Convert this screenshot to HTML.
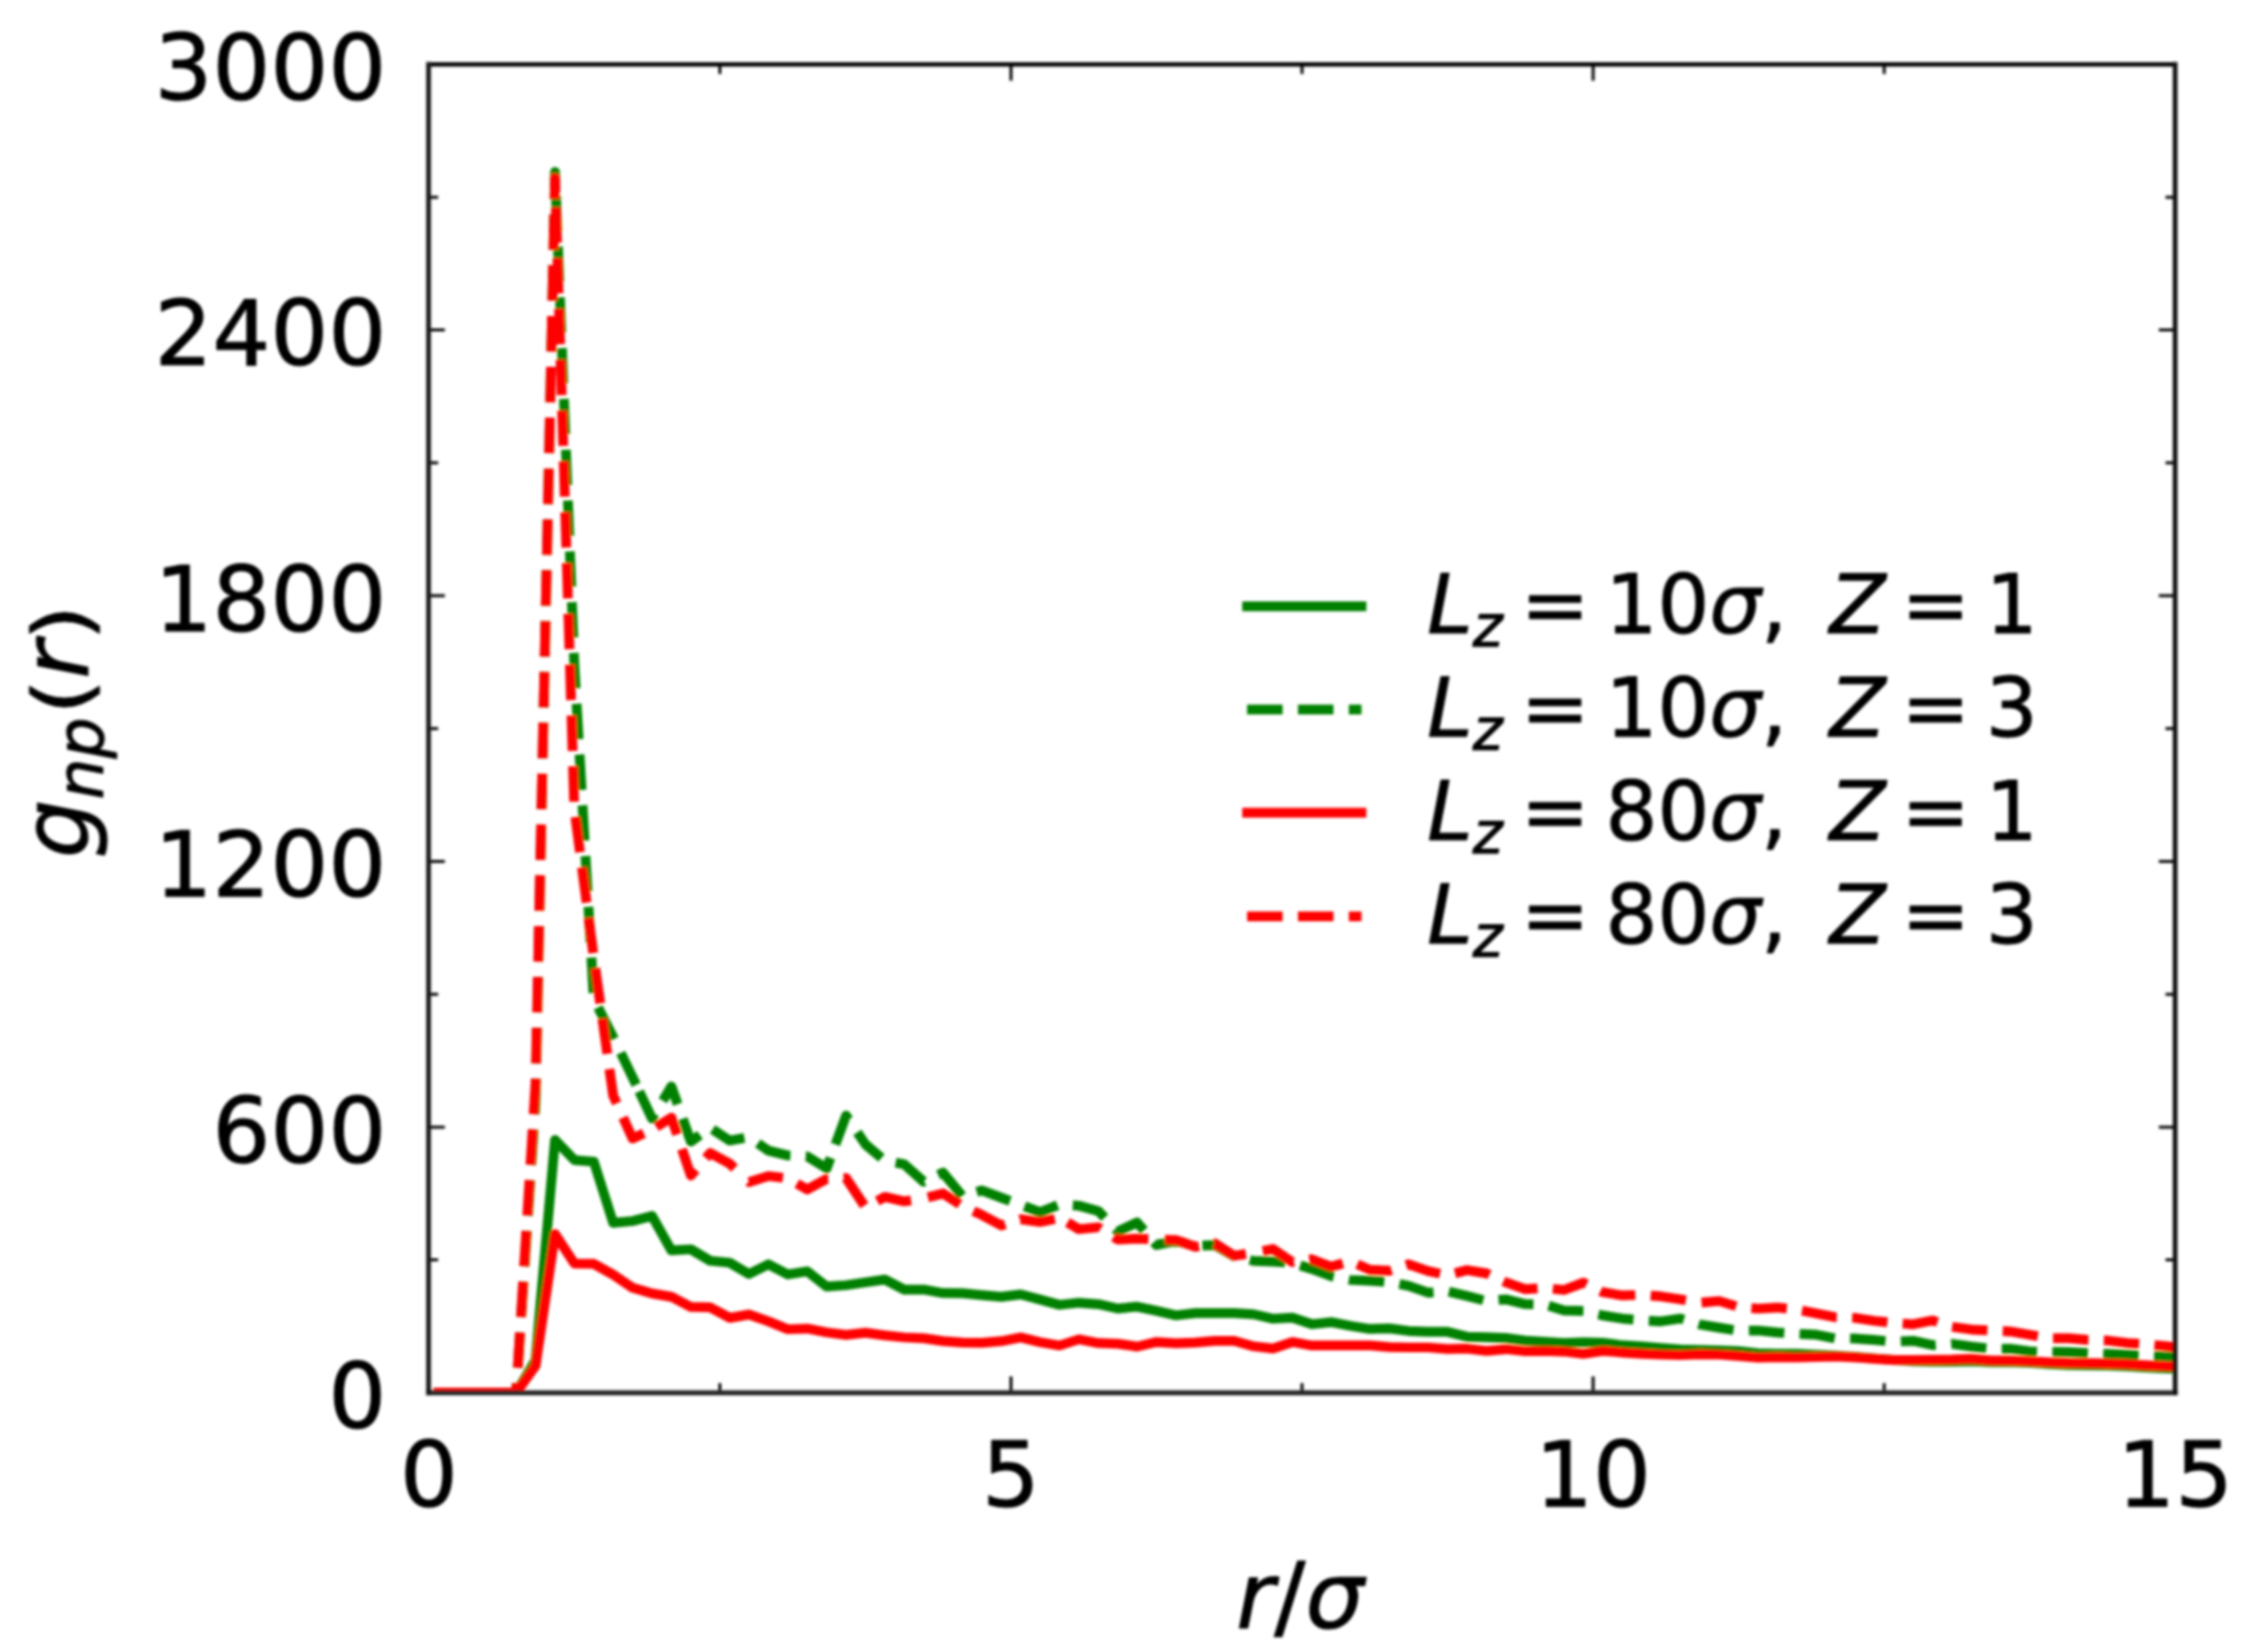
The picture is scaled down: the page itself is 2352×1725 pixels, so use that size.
<!DOCTYPE html>
<html lang="en"><head><meta charset="utf-8"><title>g_np(r) vs r/sigma</title>
<style>html,body{margin:0;padding:0;background:#fff}svg{display:block}text{font-family:"DejaVu Sans","Liberation Sans",sans-serif;fill:#000;stroke:#000;stroke-width:1.1px;stroke-linejoin:round}.i{font-style:oblique}</style></head><body>
<svg width="2352" height="1725" viewBox="0 0 2352 1725">
<defs><clipPath id="ax"><rect x="447.4" y="67.2" width="1823.3" height="1387.1"/></clipPath>
<filter id="bl" x="-2%" y="-2%" width="104%" height="104%"><feGaussianBlur stdDeviation="1.60"/></filter></defs>
<rect width="2352" height="1725" fill="#fff"/>
<g filter="url(#bl)">
<g clip-path="url(#ax)" fill="none" stroke-width="10.2" stroke-linejoin="round">
<polyline stroke="#008000" stroke-linecap="square" points="457.8,1454.2 478.1,1454.2 498.3,1454.2 518.6,1454.2 538.9,1454.2 559.1,1420.0 579.4,1190.3 599.6,1211.3 619.9,1213.0 640.1,1276.8 660.4,1275.0 680.7,1269.7 700.9,1305.7 721.2,1304.5 741.4,1316.5 761.7,1318.5 781.9,1330.3 802.2,1320.2 822.4,1330.8 842.7,1327.5 863.0,1343.4 883.2,1342.0 903.5,1339.0 923.7,1336.1 944.0,1346.6 964.2,1346.6 984.5,1350.2 1004.8,1350.4 1025.0,1352.3 1045.3,1354.1 1065.5,1351.6 1085.8,1357.0 1106.0,1362.5 1126.3,1360.3 1146.6,1361.8 1166.8,1366.4 1187.1,1364.4 1207.3,1368.8 1227.6,1373.5 1247.8,1371.1 1268.1,1371.1 1288.4,1371.1 1308.6,1372.4 1328.9,1377.0 1349.1,1375.9 1369.4,1382.7 1389.6,1380.6 1409.9,1384.5 1430.1,1387.7 1450.4,1387.1 1470.7,1389.8 1490.9,1390.7 1511.2,1390.7 1531.4,1395.8 1551.7,1396.4 1571.9,1397.1 1592.2,1399.9 1612.5,1401.1 1632.7,1402.4 1653.0,1401.5 1673.2,1402.0 1693.5,1404.7 1713.7,1405.9 1734.0,1407.7 1754.3,1409.1 1774.5,1409.7 1794.8,1410.2 1815.0,1410.9 1835.3,1413.0 1855.5,1413.6 1875.8,1413.5 1896.1,1414.5 1916.3,1415.5 1936.6,1416.8 1956.8,1418.5 1977.1,1420.0 1997.3,1421.3 2017.6,1421.8 2037.8,1421.8 2058.1,1421.3 2078.4,1422.3 2098.6,1422.3 2118.9,1423.0 2139.1,1424.3 2159.4,1425.3 2179.6,1425.6 2199.9,1426.0 2220.2,1426.6 2240.4,1427.8 2260.7,1428.8 2280.9,1429.3"/>
<polyline stroke="#008000" stroke-dasharray="37.05 16.05" stroke-dashoffset="52.21" points="457.8,1454.2 478.1,1454.2 498.3,1454.2 518.6,1454.2 538.9,1454.2 559.1,1150.0 579.4,179.5 599.6,695.0 619.9,1043.0 640.1,1083.0 660.4,1125.0 664.9,1134.5"/>
<polyline stroke="#008000" stroke-dasharray="37.05 16.05" stroke-dashoffset="47.43" points="664.9,1134.5 680.7,1168.0 700.9,1134.5 721.2,1192.0 741.4,1177.5 761.7,1191.0 781.9,1187.5 802.2,1201.5 822.4,1206.5 842.7,1207.5 863.0,1220.0 867.6,1207.3"/>
<polyline stroke="#008000" stroke-dasharray="37.05 16.05" stroke-dashoffset="39.92" points="867.6,1207.3 883.2,1164.9 903.5,1195.0 923.7,1212.0 944.0,1215.7 964.2,1233.9 984.5,1224.4 1004.8,1249.1 1025.0,1243.0 1045.3,1250.6 1065.5,1258.1 1085.8,1265.8 1106.0,1257.8 1126.3,1259.0 1146.6,1264.6 1166.8,1285.9 1187.1,1276.5 1207.3,1300.1 1227.6,1295.7 1247.8,1301.0 1268.1,1300.1 1288.4,1311.7 1308.6,1316.6 1328.9,1317.3 1349.1,1318.8 1369.4,1325.0 1389.6,1332.6 1409.9,1336.5 1430.1,1337.4 1450.4,1338.7 1470.7,1342.7 1490.9,1349.8 1511.2,1348.5 1531.4,1353.2 1551.7,1358.5 1571.9,1356.8 1592.2,1361.7 1612.5,1362.1 1632.7,1368.3 1653.0,1368.8 1673.2,1373.6 1693.5,1376.8 1713.7,1378.6 1734.0,1379.8 1754.3,1376.8 1774.5,1383.0 1794.8,1386.4 1815.0,1389.6 1835.3,1389.3 1855.5,1391.4 1875.8,1392.8 1896.1,1393.7 1916.3,1397.7 1936.6,1397.7 1956.8,1399.2 1977.1,1401.0 1997.3,1400.1 2017.6,1404.6 2037.8,1403.2 2058.1,1406.1 2078.4,1408.3 2098.6,1408.3 2118.9,1411.0 2139.1,1411.6 2159.4,1411.9 2179.6,1412.8 2199.9,1413.7 2220.2,1414.7 2240.4,1415.6 2260.7,1416.5 2280.9,1417.4"/>
<polyline stroke="#ff0000" stroke-linecap="square" points="457.8,1454.2 478.1,1454.2 498.3,1454.2 518.6,1454.2 538.9,1454.2 559.1,1426.0 579.4,1288.6 599.6,1319.3 619.9,1319.7 640.1,1331.0 660.4,1344.7 680.7,1350.6 700.9,1354.1 721.2,1364.7 741.4,1365.2 761.7,1376.1 781.9,1372.6 802.2,1379.7 822.4,1388.0 842.7,1387.3 863.0,1391.2 883.2,1393.9 903.5,1391.6 923.7,1394.4 944.0,1396.5 964.2,1397.4 984.5,1400.4 1004.8,1401.9 1025.0,1402.2 1045.3,1400.4 1065.5,1396.5 1085.8,1401.5 1106.0,1405.0 1126.3,1398.5 1146.6,1402.4 1166.8,1403.1 1187.1,1406.1 1207.3,1401.3 1227.6,1402.6 1247.8,1401.9 1268.1,1400.1 1288.4,1400.1 1308.6,1405.8 1328.9,1408.1 1349.1,1401.3 1369.4,1404.9 1389.6,1404.9 1409.9,1404.9 1430.1,1404.9 1450.4,1406.7 1470.7,1407.0 1490.9,1407.0 1511.2,1408.6 1531.4,1408.2 1551.7,1410.6 1571.9,1408.8 1592.2,1410.9 1612.5,1410.6 1632.7,1411.3 1653.0,1413.6 1673.2,1410.6 1693.5,1412.3 1713.7,1413.6 1734.0,1414.5 1754.3,1415.0 1774.5,1414.1 1794.8,1414.5 1815.0,1415.9 1835.3,1417.7 1855.5,1417.1 1875.8,1417.5 1896.1,1417.0 1916.3,1416.5 1936.6,1417.4 1956.8,1418.8 1977.1,1420.1 1997.3,1420.1 2017.6,1419.8 2037.8,1419.6 2058.1,1418.8 2078.4,1420.7 2098.6,1420.7 2118.9,1421.4 2139.1,1422.5 2159.4,1423.2 2179.6,1423.4 2199.9,1423.8 2220.2,1424.3 2240.4,1425.6 2260.7,1426.5 2280.9,1426.9"/>
<polyline stroke="#ff0000" stroke-dasharray="37.05 16.05" stroke-dashoffset="52.24" points="457.8,1454.2 478.1,1454.2 498.3,1454.2 518.6,1454.2 538.9,1454.2 559.1,1131.0 579.4,185.5 599.6,845.0 619.9,1000.0 640.1,1144.0 660.4,1188.8 673.6,1182.7"/>
<polyline stroke="#ff0000" stroke-dasharray="37.05 16.05" stroke-dashoffset="40.07" points="673.6,1182.7 680.7,1179.5 700.9,1167.0 721.2,1227.4 741.4,1204.0 761.7,1215.0 771.2,1224.1"/>
<polyline stroke="#ff0000" stroke-dasharray="37.05 16.05" stroke-dashoffset="38.74" points="771.2,1224.1 781.9,1234.4 802.2,1228.0 822.4,1230.4 842.7,1242.0 863.0,1231.0 883.2,1230.2 903.5,1260.7 923.7,1249.8 944.0,1254.5 954.8,1252.8"/>
<polyline stroke="#ff0000" stroke-dasharray="37.05 16.05" stroke-dashoffset="39.00" points="954.8,1252.8 964.2,1251.3 984.5,1246.2 1004.8,1259.3 1025.0,1268.7 1045.3,1279.6 1065.5,1273.1 1085.8,1276.0 1102.7,1272.3"/>
<polyline stroke="#ff0000" stroke-dasharray="37.05 16.05" stroke-dashoffset="40.00" points="1102.7,1272.3 1106.0,1271.6 1126.3,1283.5 1146.6,1281.5 1166.8,1294.3 1187.1,1293.4 1201.5,1294.0"/>
<polyline stroke="#ff0000" stroke-dasharray="37.05 16.05" stroke-dashoffset="38.64" points="1201.5,1294.0 1207.3,1294.3 1227.6,1294.8 1247.8,1301.9 1268.1,1298.4 1288.4,1311.3 1304.4,1308.8"/>
<polyline stroke="#ff0000" stroke-dasharray="37.05 16.05" stroke-dashoffset="39.01" points="1304.4,1308.8 1308.6,1308.1 1328.9,1304.2 1349.1,1317.9 1369.4,1314.9 1389.6,1322.7 1409.9,1317.0 1430.1,1325.9 1450.4,1326.8 1470.7,1320.2 1490.9,1327.3 1511.2,1331.5 1531.4,1326.2 1551.7,1329.6 1571.9,1339.0 1592.2,1346.1 1612.5,1344.9 1632.7,1347.0 1653.0,1339.4 1673.2,1349.3 1693.5,1352.7 1713.7,1352.0 1734.0,1353.7 1754.3,1356.8 1762.3,1358.2"/>
<polyline stroke="#ff0000" stroke-dasharray="37.05 16.05" stroke-dashoffset="38.90" points="1762.3,1358.2 1774.5,1360.3 1794.8,1358.5 1815.0,1364.8 1835.3,1366.5 1855.5,1365.3 1875.8,1367.4 1896.1,1371.4 1916.3,1375.5 1936.6,1376.1 1956.8,1379.2 1977.1,1381.4 1997.3,1382.8 2017.6,1378.8 2037.8,1385.5 2058.1,1388.3 2078.4,1389.3 2098.6,1390.3 2118.9,1393.8 2139.1,1397.4 2159.4,1397.4 2179.6,1399.2 2199.9,1399.7 2220.2,1402.3 2240.4,1403.7 2260.7,1405.6 2280.9,1408.3"/>
</g>
<g stroke="#000" stroke-width="3.0" fill="none">
<path d="M447.7 1454.3v-17 M447.7 67.2v17"/>
<path d="M1055.4 1454.3v-17 M1055.4 67.2v17"/>
<path d="M1663.1 1454.3v-17 M1663.1 67.2v17"/>
<path d="M2270.8 1454.3v-17 M2270.8 67.2v17"/>
<path d="M751.5 1454.3v-10 M751.5 67.2v10"/>
<path d="M1359.2 1454.3v-10 M1359.2 67.2v10"/>
<path d="M1967.0 1454.3v-10 M1967.0 67.2v10"/>
<path d="M447.4 1454.3h17 M2270.7 1454.3h-17"/>
<path d="M447.4 1176.9h17 M2270.7 1176.9h-17"/>
<path d="M447.4 899.5h17 M2270.7 899.5h-17"/>
<path d="M447.4 622.0h17 M2270.7 622.0h-17"/>
<path d="M447.4 344.6h17 M2270.7 344.6h-17"/>
<path d="M447.4 67.2h17 M2270.7 67.2h-17"/>
<path d="M447.4 1315.6h10 M2270.7 1315.6h-10"/>
<path d="M447.4 1038.2h10 M2270.7 1038.2h-10"/>
<path d="M447.4 760.8h10 M2270.7 760.8h-10"/>
<path d="M447.4 483.3h10 M2270.7 483.3h-10"/>
<path d="M447.4 205.9h10 M2270.7 205.9h-10"/>
</g>
<path d="M447.4 67.2H2270.7" stroke="#000" stroke-width="4.4" stroke-linecap="square" fill="none"/>
<path d="M447.4 1454.3H2270.7" stroke="#262626" stroke-width="5.2" stroke-linecap="square" fill="none"/>
<path d="M447.4 67.2V1454.3" stroke="#161616" stroke-width="4.9" stroke-linecap="square" fill="none"/>
<path d="M2270.7 67.2V1454.3" stroke="#101010" stroke-width="4.9" stroke-linecap="square" fill="none"/>
<g font-size="95.2">
<text x="403.4" y="1490.9" text-anchor="end">0</text>
<text x="403.4" y="1213.5" text-anchor="end">600</text>
<text x="403.4" y="936.1" text-anchor="end">1200</text>
<text x="403.4" y="658.7" text-anchor="end">1800</text>
<text x="403.4" y="381.3" text-anchor="end">2400</text>
<text x="403.4" y="103.8" text-anchor="end">3000</text>
<text x="447.7" y="1573" text-anchor="middle">0</text>
<text x="1055.4" y="1573" text-anchor="middle">5</text>
<text x="1663.1" y="1573" text-anchor="middle">10</text>
<text x="2270.8" y="1573" text-anchor="middle">15</text>
</g>
<text ><tspan x="1290.50" y="1699.70" font-size="96.50" class="i">r</tspan><tspan x="1330.17" y="1699.70" font-size="96.50">/</tspan><tspan x="1362.68" y="1699.70" font-size="96.50" class="i">σ</tspan></text>
<g transform="translate(91.8 896.0) rotate(-90)"><text ><tspan x="0.00" y="0.00" font-size="96.50" class="i">g</tspan><tspan x="61.26" y="15.83" font-size="67.55" class="i">n</tspan><tspan x="104.07" y="15.83" font-size="67.55" class="i">p</tspan><tspan x="187.23" y="0.00" font-size="96.50" class="i">r</tspan></text><text transform="translate(149.58 1.0) scale(1 0.84)" font-size="96.5">(</text><text transform="translate(226.91 1.0) scale(1 0.84)" font-size="96.5">)</text></g>
<path d="M1296.8 633.1H1426.4" stroke="#008000" stroke-width="10.2" fill="none"/>
<text ><tspan x="1490.00" y="661.45" font-size="85.30" class="i">L</tspan><tspan x="1537.52" y="675.44" font-size="59.71" class="i">z</tspan><tspan x="1587.81" y="661.45" font-size="85.30">=</tspan><tspan x="1675.90" y="661.45" font-size="85.30">1</tspan><tspan x="1730.18" y="661.45" font-size="85.30">0</tspan><tspan x="1784.45" y="661.45" font-size="85.30" class="i">σ</tspan><tspan x="1838.51" y="661.45" font-size="85.30">,</tspan><tspan x="1909.94" y="661.45" font-size="85.30" class="i">Z</tspan><tspan x="1985.00" y="661.45" font-size="85.30">=</tspan><tspan x="2073.09" y="661.45" font-size="85.30">1</tspan></text>
<path d="M1301.9 740.9H1421.3" stroke="#008000" stroke-width="10.2" stroke-dasharray="37.05 16.05" fill="none"/>
<text ><tspan x="1490.00" y="769.05" font-size="85.30" class="i">L</tspan><tspan x="1537.52" y="783.04" font-size="59.71" class="i">z</tspan><tspan x="1587.81" y="769.05" font-size="85.30">=</tspan><tspan x="1675.90" y="769.05" font-size="85.30">1</tspan><tspan x="1730.18" y="769.05" font-size="85.30">0</tspan><tspan x="1784.45" y="769.05" font-size="85.30" class="i">σ</tspan><tspan x="1838.51" y="769.05" font-size="85.30">,</tspan><tspan x="1909.94" y="769.05" font-size="85.30" class="i">Z</tspan><tspan x="1985.00" y="769.05" font-size="85.30">=</tspan><tspan x="2073.09" y="769.05" font-size="85.30">3</tspan></text>
<path d="M1296.8 848.7H1426.4" stroke="#ff0000" stroke-width="10.2" fill="none"/>
<text ><tspan x="1490.00" y="876.90" font-size="85.30" class="i">L</tspan><tspan x="1537.52" y="890.89" font-size="59.71" class="i">z</tspan><tspan x="1587.81" y="876.90" font-size="85.30">=</tspan><tspan x="1675.90" y="876.90" font-size="85.30">8</tspan><tspan x="1730.18" y="876.90" font-size="85.30">0</tspan><tspan x="1784.45" y="876.90" font-size="85.30" class="i">σ</tspan><tspan x="1838.51" y="876.90" font-size="85.30">,</tspan><tspan x="1909.94" y="876.90" font-size="85.30" class="i">Z</tspan><tspan x="1985.00" y="876.90" font-size="85.30">=</tspan><tspan x="2073.09" y="876.90" font-size="85.30">1</tspan></text>
<path d="M1301.9 956.9H1421.3" stroke="#ff0000" stroke-width="10.2" stroke-dasharray="37.05 16.05" fill="none"/>
<text ><tspan x="1490.00" y="984.55" font-size="85.30" class="i">L</tspan><tspan x="1537.52" y="998.54" font-size="59.71" class="i">z</tspan><tspan x="1587.81" y="984.55" font-size="85.30">=</tspan><tspan x="1675.90" y="984.55" font-size="85.30">8</tspan><tspan x="1730.18" y="984.55" font-size="85.30">0</tspan><tspan x="1784.45" y="984.55" font-size="85.30" class="i">σ</tspan><tspan x="1838.51" y="984.55" font-size="85.30">,</tspan><tspan x="1909.94" y="984.55" font-size="85.30" class="i">Z</tspan><tspan x="1985.00" y="984.55" font-size="85.30">=</tspan><tspan x="2073.09" y="984.55" font-size="85.30">3</tspan></text>
</g>
</svg></body></html>
